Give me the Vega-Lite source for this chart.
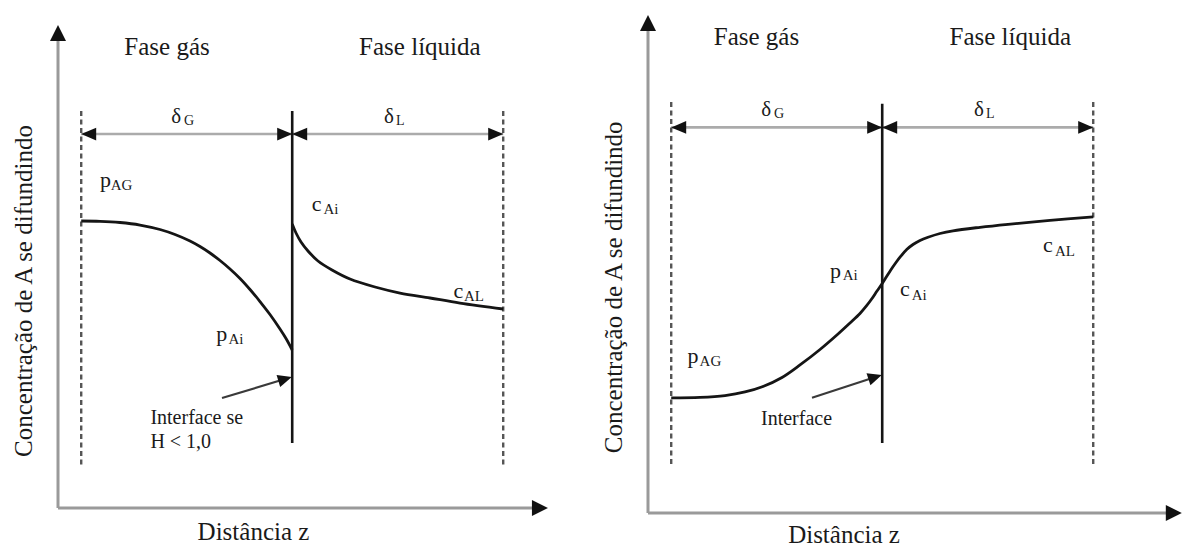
{
  "$schema": "https://vega.github.io/schema/vega-lite/v6.json",
  "padding": 0,
  "spacing": 0,
  "background": "white",
  "config": {"view": {"stroke": null}, "font": "Liberation Serif", "text": {"font": "Liberation Serif"}},
  "datasets": {
    "p1_axes": [{"z": 0, "c": 0, "z2": 0, "c2": 98}, {"z": 0, "c": 0, "z2": 23, "c2": 0}],
    "p1_axis_up": [{"z": 0, "c": 100}],
    "p1_axis_right": [{"z": 23.22, "c": 0}],
    "p1_dashed": [{"z": 1.1, "c": 82.2, "z2": 1.1, "c2": 8.9}, {"z": 21.1, "c": 82.2, "z2": 21.1, "c2": 8.9}],
    "p1_interface": [{"z": 11.1, "c": 82.2, "z2": 11.1, "c2": 13.46}],
    "p1_delta": [{"z": 1.1, "c": 77.43, "z2": 21.1, "c2": 77.43}],
    "p1_delta_left": [{"z": 1.1, "c": 77.43}, {"z": 11.1, "c": 77.43}],
    "p1_delta_right": [{"z": 11.1, "c": 77.43}, {"z": 21.1, "c": 77.43}],
    "p1_curves": [
      {"fase": "gás", "z": 1.1, "c": 59.42},
      {"fase": "gás", "z": 1.991, "c": 59.36},
      {"fase": "gás", "z": 2.938, "c": 59.11},
      {"fase": "gás", "z": 3.886, "c": 58.59},
      {"fase": "gás", "z": 4.834, "c": 57.66},
      {"fase": "gás", "z": 5.545, "c": 56.63},
      {"fase": "gás", "z": 6.256, "c": 55.28},
      {"fase": "gás", "z": 6.73, "c": 54.14},
      {"fase": "gás", "z": 7.204, "c": 52.8},
      {"fase": "gás", "z": 7.678, "c": 51.24},
      {"fase": "gás", "z": 8.152, "c": 49.48},
      {"fase": "gás", "z": 8.626, "c": 47.52},
      {"fase": "gás", "z": 9.1, "c": 45.24},
      {"fase": "gás", "z": 9.573, "c": 42.75},
      {"fase": "gás", "z": 10.047, "c": 40.06},
      {"fase": "gás", "z": 10.521, "c": 37.06},
      {"fase": "gás", "z": 10.806, "c": 35.09},
      {"fase": "gás", "z": 11.1, "c": 32.71},
      {"fase": "líquida", "z": 11.1, "c": 58.8},
      {"fase": "líquida", "z": 11.28, "c": 56.94},
      {"fase": "líquida", "z": 11.517, "c": 55.07},
      {"fase": "líquida", "z": 11.848, "c": 53.21},
      {"fase": "líquida", "z": 12.322, "c": 51.14},
      {"fase": "líquida", "z": 12.986, "c": 49.28},
      {"fase": "líquida", "z": 13.839, "c": 47.41},
      {"fase": "líquida", "z": 15.024, "c": 45.76},
      {"fase": "líquida", "z": 16.209, "c": 44.51},
      {"fase": "líquida", "z": 17.63, "c": 43.48},
      {"fase": "líquida", "z": 19.052, "c": 42.44},
      {"fase": "líquida", "z": 21.1, "c": 41.2}
    ],
    "p1_pointer": [{"z": 7.773, "c": 22.77, "z2": 10.6, "c2": 26.49}],
    "p1_pointer_head": [{"z": 11.08, "c": 27.12}],
    "p1_titles": [
      {"z": 5.166, "c": 93.69, "label": "Fase gás"},
      {"z": 17.15, "c": 93.69, "label": "Fase líquida"},
      {"z": 9.265, "c": -6.625, "label": "Distância z"}
    ],
    "p1_ytitle": [{"z": -1.232, "c": 44.93, "label": "Concentração de A se difundindo"}],
    "p1_main": [
      {"z": 1.99, "c": 66.52, "label": "p"},
      {"z": 7.5, "c": 34.58, "label": "p"},
      {"z": 12.02, "c": 61.49, "label": "c"},
      {"z": 18.74, "c": 43.42, "label": "c"}
    ],
    "p1_sub": [
      {"z": 2.5, "c": 65.84, "label": "AG"},
      {"z": 8.08, "c": 33.95, "label": "Ai"},
      {"z": 12.58, "c": 60.97, "label": "Ai"},
      {"z": 19.24, "c": 42.92, "label": "AL"}
    ],
    "p1_deltas": [{"z": 5.37, "c": 79.71, "label": "δ"}, {"z": 15.45, "c": 79.71, "label": "δ"}],
    "p1_delta_sub": [{"z": 5.97, "c": 79.3, "label": "G"}, {"z": 16.02, "c": 79.3, "label": "L"}],
    "p1_note": [{"z": 4.379, "c": 17.39, "label": "Interface se"}, {"z": 4.379, "c": 12.46, "label": "H < 1,0"}],

    "p2_axes": [{"z": 0, "c": 0, "z2": 0, "c2": 98}, {"z": 0, "c": 0, "z2": 25, "c2": 0}],
    "p2_axis_up": [{"z": 0, "c": 100}],
    "p2_axis_right": [{"z": 25.3, "c": 0}],
    "p2_dashed": [{"z": 1.1, "c": 82.53, "z2": 1.1, "c2": 9.24}, {"z": 21.1, "c": 82.53, "z2": 21.1, "c2": 9.24}],
    "p2_interface": [{"z": 11.1, "c": 82.19, "z2": 11.1, "c2": 14.06}],
    "p2_delta": [{"z": 1.1, "c": 77.43, "z2": 21.1, "c2": 77.43}],
    "p2_delta_left": [{"z": 1.1, "c": 77.43}, {"z": 11.1, "c": 77.43}],
    "p2_delta_right": [{"z": 11.1, "c": 77.43}, {"z": 21.1, "c": 77.43}],
    "p2_curve": [
      {"z": 1.1, "c": 23.13},
      {"z": 2.464, "c": 23.23},
      {"z": 3.649, "c": 23.59},
      {"z": 4.597, "c": 24.3},
      {"z": 5.45, "c": 25.4},
      {"z": 6.351, "c": 27.21},
      {"z": 7.204, "c": 29.72},
      {"z": 8.152, "c": 32.83},
      {"z": 9.005, "c": 35.94},
      {"z": 9.573, "c": 38.15},
      {"z": 10.047, "c": 40.06},
      {"z": 10.332, "c": 41.47},
      {"z": 10.616, "c": 43.07},
      {"z": 10.853, "c": 44.58},
      {"z": 11.1, "c": 46.08},
      {"z": 11.308, "c": 47.49},
      {"z": 11.498, "c": 48.76},
      {"z": 11.735, "c": 50.2},
      {"z": 11.972, "c": 51.51},
      {"z": 12.261, "c": 52.91},
      {"z": 12.559, "c": 53.92},
      {"z": 12.891, "c": 54.72},
      {"z": 13.27, "c": 55.36},
      {"z": 13.839, "c": 56.12},
      {"z": 14.455, "c": 56.67},
      {"z": 15.735, "c": 57.37},
      {"z": 17.062, "c": 57.97},
      {"z": 19.052, "c": 58.76},
      {"z": 21.1, "c": 59.48}
    ],
    "p2_pointer": [{"z": 7.773, "c": 23.13, "z2": 10.6, "c2": 27.05}],
    "p2_pointer_head": [{"z": 11.08, "c": 27.71}],
    "p2_titles": [
      {"z": 5.142, "c": 94.06, "label": "Fase gás"},
      {"z": 17.17, "c": 94.06, "label": "Fase líquida"},
      {"z": 9.289, "c": -6.024, "label": "Distância z"}
    ],
    "p2_ytitle": [{"z": -1.232, "c": 45.32, "label": "Concentração de A se difundindo"}],
    "p2_main": [
      {"z": 1.877, "c": 30.02, "label": "p"},
      {"z": 8.626, "c": 47.25, "label": "p"},
      {"z": 11.943, "c": 43.63, "label": "c"},
      {"z": 18.72, "c": 52.47, "label": "c"}
    ],
    "p2_sub": [
      {"z": 2.445, "c": 29.42, "label": "AG"},
      {"z": 9.227, "c": 46.69, "label": "Ai"},
      {"z": 12.498, "c": 42.77, "label": "Ai"},
      {"z": 19.289, "c": 51.67, "label": "AL"}
    ],
    "p2_deltas": [{"z": 5.37, "c": 79.72, "label": "δ"}, {"z": 15.45, "c": 79.72, "label": "δ"}],
    "p2_delta_sub": [{"z": 5.97, "c": 79.32, "label": "G"}, {"z": 16.02, "c": 79.32, "label": "L"}],
    "p2_note": [{"z": 5.355, "c": 17.67, "label": "Interface"}]
  },
  "hconcat": [
    {
      "width": 595,
      "height": 547,
      "encoding": {
        "x": {"field": "z", "type": "quantitative", "scale": {"domain": [-2.749, 25.45], "nice": false, "zero": false}, "axis": null},
        "y": {"field": "c", "type": "quantitative", "scale": {"domain": [-8.075, 105.18], "nice": false, "zero": false}, "axis": null}
      },
      "layer": [
        {"data": {"name": "p1_delta"}, "mark": {"type": "rule", "color": "#ababab", "strokeWidth": 2.6}, "encoding": {"x2": {"field": "z2"}, "y2": {"field": "c2"}}},
        {"data": {"name": "p1_axes"}, "mark": {"type": "rule", "color": "#9a9a9a", "strokeWidth": 3}, "encoding": {"x2": {"field": "z2"}, "y2": {"field": "c2"}}},
        {"data": {"name": "p1_dashed"}, "mark": {"type": "rule", "color": "#555555", "strokeWidth": 2.4, "strokeDash": [5, 3.5]}, "encoding": {"x2": {"field": "z2"}, "y2": {"field": "c2"}}},
        {"data": {"name": "p1_interface"}, "mark": {"type": "rule", "color": "#151515", "strokeWidth": 2.6}, "encoding": {"x2": {"field": "z2"}, "y2": {"field": "c2"}}},
        {"data": {"name": "p1_pointer"}, "mark": {"type": "rule", "color": "#3a3a3a", "strokeWidth": 2.2}, "encoding": {"x2": {"field": "z2"}, "y2": {"field": "c2"}}},
        {"data": {"name": "p1_curves"}, "mark": {"type": "line", "interpolate": "catmull-rom", "color": "#151515", "strokeWidth": 2.8}, "encoding": {"detail": {"field": "fase"}}},
        {"data": {"name": "p1_axis_up"}, "mark": {"type": "point", "shape": "M0,0 L-2,-1 L-2,1 Z", "filled": true, "size": 256, "color": "#111111", "opacity": 1, "angle": 270}, "encoding": {}},
        {"data": {"name": "p1_axis_right"}, "mark": {"type": "point", "shape": "M0,0 L-2,-1 L-2,1 Z", "filled": true, "size": 256, "color": "#111111", "opacity": 1, "angle": 0}, "encoding": {}},
        {"data": {"name": "p1_delta_left"}, "mark": {"type": "point", "shape": "M0,0 L-2,-0.85 L-2,0.85 Z", "filled": true, "size": 225, "color": "#111111", "opacity": 1, "angle": 180}, "encoding": {}},
        {"data": {"name": "p1_delta_right"}, "mark": {"type": "point", "shape": "M0,0 L-2,-0.85 L-2,0.85 Z", "filled": true, "size": 225, "color": "#111111", "opacity": 1, "angle": 0}, "encoding": {}},
        {"data": {"name": "p1_pointer_head"}, "mark": {"type": "point", "shape": "M0,0 L-2,-0.9 L-2,0.9 Z", "filled": true, "size": 196, "color": "#111111", "opacity": 1, "angle": 343.3}, "encoding": {}},
        {"data": {"name": "p1_titles"}, "mark": {"type": "text", "font": "Liberation Serif", "align": "center", "baseline": "alphabetic", "fontSize": 25, "color": "#1a1a1a"}, "encoding": {"text": {"field": "label"}}},
        {"data": {"name": "p1_ytitle"}, "mark": {"type": "text", "font": "Liberation Serif", "align": "center", "baseline": "alphabetic", "fontSize": 25, "angle": 270, "color": "#1a1a1a"}, "encoding": {"text": {"field": "label"}}},
        {"data": {"name": "p1_main"}, "mark": {"type": "text", "font": "Liberation Serif", "align": "left", "baseline": "alphabetic", "fontSize": 22, "color": "#1a1a1a"}, "encoding": {"text": {"field": "label"}}},
        {"data": {"name": "p1_sub"}, "mark": {"type": "text", "font": "Liberation Serif", "align": "left", "baseline": "alphabetic", "fontSize": 15, "color": "#1a1a1a"}, "encoding": {"text": {"field": "label"}}},
        {"data": {"name": "p1_deltas"}, "mark": {"type": "text", "font": "Liberation Serif", "align": "left", "baseline": "alphabetic", "fontSize": 21, "color": "#1a1a1a"}, "encoding": {"text": {"field": "label"}}},
        {"data": {"name": "p1_delta_sub"}, "mark": {"type": "text", "font": "Liberation Serif", "align": "left", "baseline": "alphabetic", "fontSize": 14, "color": "#1a1a1a"}, "encoding": {"text": {"field": "label"}}},
        {"data": {"name": "p1_note"}, "mark": {"type": "text", "font": "Liberation Serif", "align": "left", "baseline": "alphabetic", "fontSize": 20, "color": "#1a1a1a"}, "encoding": {"text": {"field": "label"}}}
      ]
    },
    {
      "width": 588,
      "height": 547,
      "encoding": {
        "x": {"field": "z", "type": "quantitative", "scale": {"domain": [-2.512, 25.355], "nice": false, "zero": false}, "axis": null},
        "y": {"field": "c", "type": "quantitative", "scale": {"domain": [-6.827, 103.01], "nice": false, "zero": false}, "axis": null}
      },
      "layer": [
        {"data": {"name": "p2_delta"}, "mark": {"type": "rule", "color": "#ababab", "strokeWidth": 2.6}, "encoding": {"x2": {"field": "z2"}, "y2": {"field": "c2"}}},
        {"data": {"name": "p2_axes"}, "mark": {"type": "rule", "color": "#9a9a9a", "strokeWidth": 3}, "encoding": {"x2": {"field": "z2"}, "y2": {"field": "c2"}}},
        {"data": {"name": "p2_dashed"}, "mark": {"type": "rule", "color": "#555555", "strokeWidth": 2.4, "strokeDash": [5, 3.5]}, "encoding": {"x2": {"field": "z2"}, "y2": {"field": "c2"}}},
        {"data": {"name": "p2_interface"}, "mark": {"type": "rule", "color": "#151515", "strokeWidth": 2.6}, "encoding": {"x2": {"field": "z2"}, "y2": {"field": "c2"}}},
        {"data": {"name": "p2_pointer"}, "mark": {"type": "rule", "color": "#3a3a3a", "strokeWidth": 2.2}, "encoding": {"x2": {"field": "z2"}, "y2": {"field": "c2"}}},
        {"data": {"name": "p2_curve"}, "mark": {"type": "line", "interpolate": "catmull-rom", "color": "#151515", "strokeWidth": 2.8}, "encoding": {}},
        {"data": {"name": "p2_axis_up"}, "mark": {"type": "point", "shape": "M0,0 L-2,-1 L-2,1 Z", "filled": true, "size": 256, "color": "#111111", "opacity": 1, "angle": 270}, "encoding": {}},
        {"data": {"name": "p2_axis_right"}, "mark": {"type": "point", "shape": "M0,0 L-2,-1 L-2,1 Z", "filled": true, "size": 256, "color": "#111111", "opacity": 1, "angle": 0}, "encoding": {}},
        {"data": {"name": "p2_delta_left"}, "mark": {"type": "point", "shape": "M0,0 L-2,-0.85 L-2,0.85 Z", "filled": true, "size": 225, "color": "#111111", "opacity": 1, "angle": 180}, "encoding": {}},
        {"data": {"name": "p2_delta_right"}, "mark": {"type": "point", "shape": "M0,0 L-2,-0.85 L-2,0.85 Z", "filled": true, "size": 225, "color": "#111111", "opacity": 1, "angle": 0}, "encoding": {}},
        {"data": {"name": "p2_pointer_head"}, "mark": {"type": "point", "shape": "M0,0 L-2,-0.9 L-2,0.9 Z", "filled": true, "size": 196, "color": "#111111", "opacity": 1, "angle": 341.9}, "encoding": {}},
        {"data": {"name": "p2_titles"}, "mark": {"type": "text", "font": "Liberation Serif", "align": "center", "baseline": "alphabetic", "fontSize": 25, "color": "#1a1a1a"}, "encoding": {"text": {"field": "label"}}},
        {"data": {"name": "p2_ytitle"}, "mark": {"type": "text", "font": "Liberation Serif", "align": "center", "baseline": "alphabetic", "fontSize": 25, "angle": 270, "color": "#1a1a1a"}, "encoding": {"text": {"field": "label"}}},
        {"data": {"name": "p2_main"}, "mark": {"type": "text", "font": "Liberation Serif", "align": "left", "baseline": "alphabetic", "fontSize": 22, "color": "#1a1a1a"}, "encoding": {"text": {"field": "label"}}},
        {"data": {"name": "p2_sub"}, "mark": {"type": "text", "font": "Liberation Serif", "align": "left", "baseline": "alphabetic", "fontSize": 15, "color": "#1a1a1a"}, "encoding": {"text": {"field": "label"}}},
        {"data": {"name": "p2_deltas"}, "mark": {"type": "text", "font": "Liberation Serif", "align": "left", "baseline": "alphabetic", "fontSize": 21, "color": "#1a1a1a"}, "encoding": {"text": {"field": "label"}}},
        {"data": {"name": "p2_delta_sub"}, "mark": {"type": "text", "font": "Liberation Serif", "align": "left", "baseline": "alphabetic", "fontSize": 14, "color": "#1a1a1a"}, "encoding": {"text": {"field": "label"}}},
        {"data": {"name": "p2_note"}, "mark": {"type": "text", "font": "Liberation Serif", "align": "left", "baseline": "alphabetic", "fontSize": 20, "color": "#1a1a1a"}, "encoding": {"text": {"field": "label"}}}
      ]
    }
  ]
}
